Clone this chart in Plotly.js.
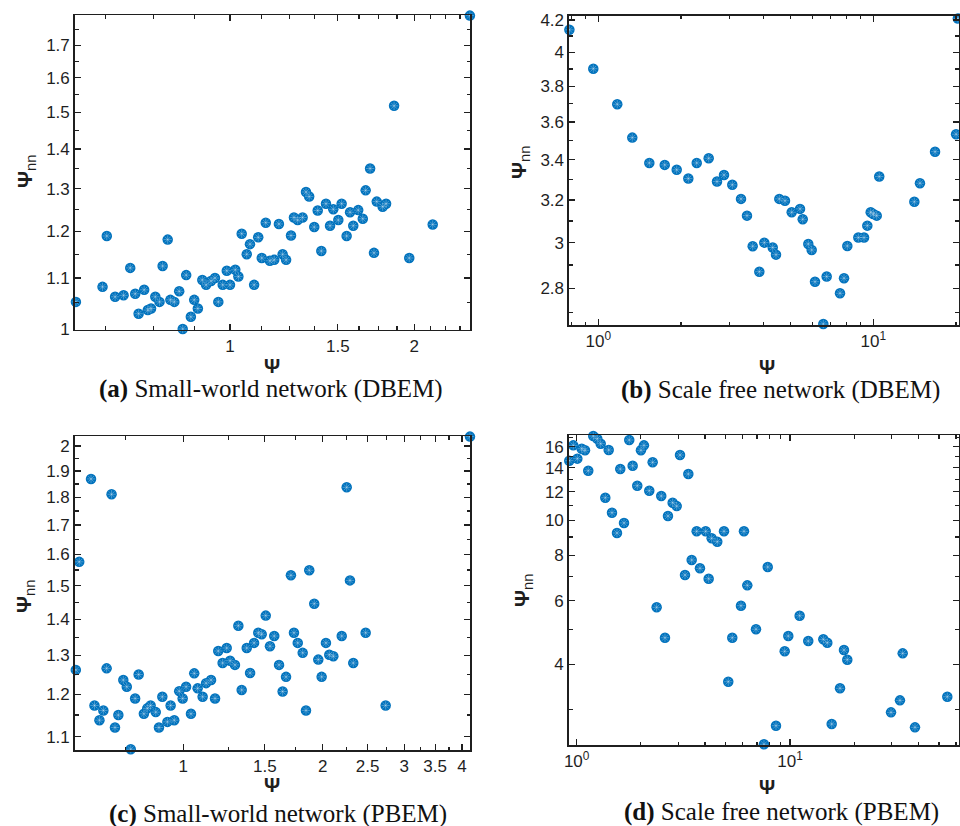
<!DOCTYPE html>
<html><head><meta charset="utf-8">
<script src="https://cdn.plot.ly/plotly-3.0.1.min.js"></script>
<style>html,body{margin:0;padding:0;background:#fff}#plot{width:960px;height:826px}</style>
</head><body><div id="plot"></div>
<script>
// (a) Small-world network (DBEM)
const aX=[0.560,0.619,0.629,0.649,0.670,0.687,0.700,0.709,0.724,0.734,0.743,0.755,0.767,0.776,0.791,0.799,0.811,0.826,0.837,0.848,0.863,0.874,0.886,0.901,0.914,0.931,0.945,0.957,0.973,0.988,1.000,1.020,1.032,1.045,1.065,1.078,1.095,1.112,1.127,1.144,1.162,1.181,1.202,1.219,1.235,1.258,1.272,1.290,1.314,1.331,1.347,1.373,1.391,1.410,1.435,1.457,1.475,1.503,1.522,1.551,1.571,1.590,1.620,1.648,1.666,1.719,1.737,1.776,1.799,1.963,2.144,1.694,1.854,2.466];
const aY=[1.052,1.082,1.190,1.062,1.065,1.121,1.068,1.029,1.076,1.036,1.039,1.062,1.052,1.125,1.182,1.056,1.052,1.073,1.000,1.106,1.023,1.056,1.039,1.096,1.086,1.094,1.100,1.052,1.086,1.115,1.086,1.117,1.103,1.195,1.150,1.172,1.086,1.187,1.142,1.220,1.136,1.138,1.217,1.150,1.138,1.191,1.232,1.226,1.232,1.292,1.281,1.210,1.248,1.157,1.264,1.213,1.251,1.226,1.264,1.190,1.244,1.213,1.249,1.229,1.296,1.153,1.269,1.257,1.264,1.142,1.216,1.350,1.518,1.797];
// (b) Scale free network (DBEM)
const bX=[0.785,0.959,1.172,1.329,1.533,1.744,1.928,2.125,2.280,2.520,2.702,2.865,3.071,3.303,3.473,3.643,3.851,4.015,4.307,4.428,4.552,4.774,5.050,5.414,5.538,5.802,5.970,6.138,6.579,6.768,7.567,7.826,8.045,8.822,9.253,9.511,9.784,10.00,10.29,10.51,14.10,14.78,16.77,20.0,20.3];
const bY=[4.138,3.902,3.698,3.516,3.384,3.374,3.349,3.305,3.384,3.408,3.290,3.323,3.274,3.205,3.125,2.984,2.871,3.000,2.978,2.946,3.205,3.196,3.141,3.157,3.108,2.994,2.967,2.828,2.653,2.850,2.779,2.843,2.985,3.023,3.023,3.078,3.141,3.133,3.125,3.315,3.191,3.282,3.442,3.534,4.21];
// (c) Small-world network (PBEM)
const cX=[4.161,0.632,0.700,0.596,2.254,2.291,1.708,1.871,1.918,1.315,1.507,0.586,0.643,0.659,0.672,0.683,0.712,0.724,0.742,0.755,0.770,0.787,0.801,0.822,0.836,0.850,0.872,0.886,0.901,0.924,0.939,0.956,0.980,0.997,1.014,1.039,1.056,1.074,1.101,1.120,1.148,1.171,1.190,1.216,1.241,1.262,1.293,1.337,1.371,1.394,1.422,1.452,1.477,1.539,1.572,1.610,1.639,1.667,1.734,1.767,1.811,1.841,1.957,1.990,2.033,2.067,2.109,2.199,2.329,2.477,2.736];
const cY=[2.039,1.869,1.811,1.576,1.837,1.517,1.533,1.549,1.446,1.382,1.411,1.262,1.173,1.138,1.161,1.266,1.121,1.150,1.236,1.219,1.072,1.190,1.250,1.153,1.166,1.173,1.157,1.121,1.194,1.134,1.173,1.138,1.208,1.190,1.219,1.153,1.253,1.215,1.194,1.228,1.236,1.190,1.312,1.280,1.320,1.286,1.275,1.211,1.320,1.254,1.334,1.362,1.358,1.325,1.353,1.275,1.207,1.244,1.362,1.334,1.307,1.161,1.289,1.244,1.334,1.302,1.298,1.353,1.280,1.362,1.173];
// (d) Scale free network (PBEM)
const dX=[0.923,0.964,1.007,1.056,1.094,1.133,1.196,1.249,1.296,1.362,1.413,1.464,1.545,1.601,1.667,1.764,1.830,1.923,2.001,2.067,2.189,2.271,2.371,2.492,2.679,2.818,2.944,3.051,3.220,3.337,3.461,3.652,3.784,4.025,4.157,4.293,4.561,4.905,5.892,6.085,6.307,6.928,7.864,11.10,2.594,5.363,5.136,8.598,7.552,9.445,9.818,12.18,14.33,14.96,15.69,17.16,17.91,18.56,29.76,32.78,33.76,38.55,54.64];
const dY=[14.64,16.14,14.83,15.80,15.64,13.73,17.13,16.84,16.31,11.56,15.67,10.51,9.234,13.88,9.847,16.70,14.17,12.48,15.64,16.14,12.09,14.49,5.752,11.69,10.29,11.20,10.96,15.18,7.065,13.45,7.775,9.334,7.374,9.334,6.900,8.927,8.735,9.334,5.811,9.334,6.616,5.002,7.436,5.451,4.738,4.738,3.580,2.705,2.403,4.345,4.789,4.639,4.690,4.589,2.734,3.433,4.381,4.120,2.945,3.179,4.289,2.677,3.253];

// ticks
const aXticks=[1,1.5,2], aXlabels=['1','1.5','2'];
const aXminor=[0.625,0.75,0.875,1.125,1.25,1.375,1.625,1.75,1.875,2.125,2.25,2.375];
const aYticks=[1,1.1,1.2,1.3,1.4,1.5,1.6,1.7], aYlabels=['1','1.1','1.2','1.3','1.4','1.5','1.6','1.7'];
const aYminor=[1.05,1.15,1.25,1.35,1.45,1.55,1.65,1.75];
const bXticks=[1,10], bXlabels=['10<sup>0</sup>','10<sup>1</sup>'];
const bXminor=[0.8,0.9,2,3,4,5,6,7,8,9,20];
const bYticks=[2.8,3,3.2,3.4,3.6,3.8,4,4.2], bYlabels=['2.8','3','3.2','3.4','3.6','3.8','4','4.2'];
const bYminor=[2.7,2.9,3.1,3.3,3.5,3.7,3.9,4.1];
const cXticks=[1,1.5,2,2.5,3,3.5,4], cXlabels=['1','1.5','2','2.5','3','3.5','4'];
const cXminor=[0.75,1.25,1.75,2.25,2.75,3.25,3.75];
const cYticks=[1.1,1.2,1.3,1.4,1.5,1.6,1.7,1.8,1.9,2], cYlabels=['1.1','1.2','1.3','1.4','1.5','1.6','1.7','1.8','1.9','2'];
const cYminor=[1.15,1.25,1.35,1.45,1.55,1.65,1.75,1.85,1.95];
const dXticks=[1,10], dXlabels=['10<sup>0</sup>','10<sup>1</sup>'];
const dXminor=[2,3,4,5,6,7,8,9,20,30,40,50,60];
const dYticks=[4,6,8,10,12,14,16], dYlabels=['4','6','8','10','12','14','16'];
const dYminor=[3,5,7,9,11,13,15,17];

const captions=[['(a)','Small-world network (DBEM)'],['(b)','Scale free network (DBEM)'],['(c)','Small-world network (PBEM)'],['(d)','Scale free network (PBEM)']];

const INK='#1f1f1f', BLUE='#0072BD';
function ax(domain, range, tv, tt, mv, anchor){
  return {type:'log', domain:domain, range:range, anchor:anchor,
    tickmode:'array', tickvals:tv, ticktext:tt, ticks:'inside', ticklen:6, tickwidth:1.2, tickcolor:INK,
    showline:true, linecolor:INK, linewidth:1.8, mirror:'ticks', showgrid:false, zeroline:false,
    minor:{tickmode:'array', tickvals:mv, ticks:'inside', ticklen:3.5, tickwidth:1.2, tickcolor:INK, showgrid:false},
    tickfont:{family:'Liberation Sans, Arial, sans-serif', size:17, color:INK}, fixedrange:true};
}
function pts(x,y,xa,ya){
  return [
    {type:'scatter', mode:'markers', x:x, y:y, xaxis:xa, yaxis:ya, cliponaxis:false, hoverinfo:'skip',
     marker:{size:10.5, color:BLUE, line:{width:0}}},
    {type:'scatter', mode:'markers', x:x, y:y, xaxis:xa, yaxis:ya, cliponaxis:false, hoverinfo:'skip',
     marker:{symbol:'asterisk-open', size:7, color:'rgba(255,255,255,0.28)', line:{width:1, color:'rgba(255,255,255,0.28)'}}}
  ];
}
const data=[].concat(pts(aX,aY,'x','y'), pts(bX,bY,'x2','y2'), pts(cX,cY,'x3','y3'), pts(dX,dY,'x4','y4'));

const W=960,H=826;
const px=v=>v/W, py=v=>1-v/H;
const anns=[];
const capPos=[[271,389],[780,390],[277.5,814],[781,812]];
captions.forEach((c,i)=>anns.push({xref:'paper',yref:'paper',x:px(capPos[i][0]),y:py(capPos[i][1]),xanchor:'center',yanchor:'middle',showarrow:false,
  text:'<b>'+c[0]+'</b> '+c[1], font:{family:'Liberation Serif, Times New Roman, serif', size:25, color:'#111'}}));
const xtPos=[[272,366],[767,367],[272,785],[767,787]];
xtPos.forEach(p=>anns.push({xref:'paper',yref:'paper',x:px(p[0]),y:py(p[1]),xanchor:'center',yanchor:'middle',showarrow:false,
  text:'<b>Ψ</b>', font:{family:'Liberation Sans, Arial, sans-serif', size:20, color:INK}}));
const ytPos=[[26,172],[520,163],[25,597],[523,591]];
ytPos.forEach(p=>anns.push({xref:'paper',yref:'paper',x:px(p[0]),y:py(p[1]),xanchor:'center',yanchor:'middle',showarrow:false,textangle:-90,
  text:'<b>Ψ</b><sub>nn</sub>', font:{family:'Liberation Sans, Arial, sans-serif', size:21, color:INK}}));

const layout={width:W,height:H,margin:{l:0,r:0,t:0,b:0},paper_bgcolor:'#fff',plot_bgcolor:'#fff',showlegend:false,
  xaxis: ax([75/W,470.2/W],[-0.2533,0.3925],aXticks,aXlabels,aXminor,'y'),
  yaxis: ax([py(329.6),py(15.3)],[-0.0005,0.2548],aYticks,aYlabels,aYminor,'x'),
  xaxis2: ax([569.26/W,958.58/W],[-0.1056,1.3101],bXticks,bXlabels,bXminor,'y2'),
  yaxis2: ax([py(325.1),py(15.8)],[0.4230,0.6260],bYticks,bYlabels,bYminor,'x2'),
  xaxis3: ax([75/W,470.1/W],[-0.2339,0.6195],cXticks,cXlabels,cXminor,'y3'),
  yaxis3: ax([py(750),py(436.4)],[0.0295,0.3096],cYticks,cYlabels,cYminor,'x3'),
  xaxis4: ax([569/W,958.5/W],[-0.036,1.790],dXticks,dXlabels,dXminor,'y4'),
  yaxis4: ax([py(745.1),py(435.4)],[0.3785,1.2355],dYticks,dYlabels,dYminor,'x4'),
  annotations:anns};
Plotly.newPlot('plot',data,layout,{staticPlot:true,displayModeBar:false});
</script></body></html>
